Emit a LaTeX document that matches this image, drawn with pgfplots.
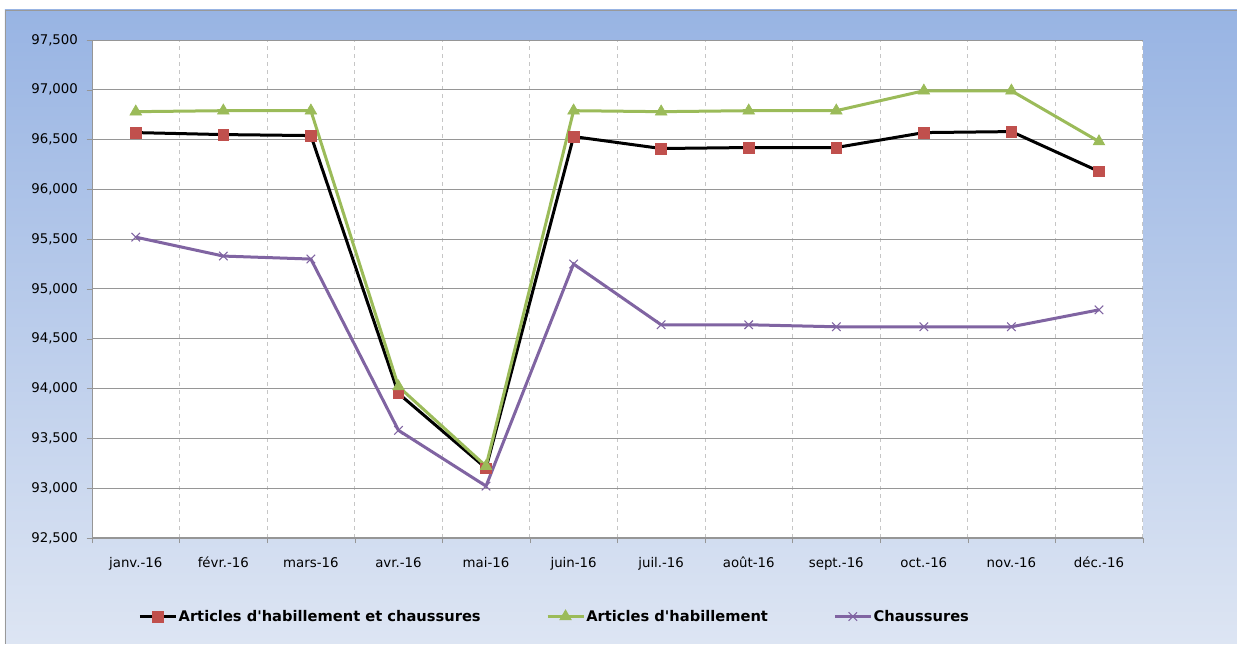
\documentclass[border=0pt]{standalone}
\usepackage{fontspec}
\setmainfont{DejaVu Sans}[Ligatures=TeXOff]
\usepackage{pgfplots}
\pgfplotsset{compat=1.18}
\definecolor{bgtop}{RGB}{152,180,227}
\definecolor{bgbot}{RGB}{221,229,243}
\definecolor{sqred}{RGB}{192,80,77}
\definecolor{grn}{RGB}{155,187,89}
\definecolor{purp}{RGB}{128,100,162}
\definecolor{gridc}{RGB}{150,150,150}

\begin{document}
\begin{tikzpicture}
% page: 1237 x 644 px at 0.75pt per px
\fill[white] (0,0) rectangle (927.75pt,483pt);
\shade[top color=bgtop, bottom color=bgbot] (3.75pt,0) rectangle (927.75pt,475.5pt);
\draw[gray!80] (3.75pt,0) -- (3.75pt,475.5pt) -- (927.75pt,475.5pt);
\begin{axis}[
    at={(69pt,79.5pt)}, anchor=south west,
    scale only axis,
    width=788.25pt, height=373.5pt,
    xmin=-0.5, xmax=11.5,
    ymin=92500, ymax=97500,
    axis background/.style={fill=white},
    axis x line*=bottom, axis y line*=left,
    axis line style={gridc, -},
    xtick={0,...,11},
    xticklabels={janv.-16,févr.-16,mars-16,avr.-16,mai-16,juin-16,juil.-16,août-16,sept.-16,oct.-16,nov.-16,déc.-16},
    minor xtick={-0.5,0.5,...,11.5},
    major x tick style={draw=none},
    minor x tick style={gridc},
    xminorgrids=true,
    minor x grid style={gray!45, dashed, line width=0.6pt},
    ytick={92500,93000,...,97500},
    ymajorgrids=true,
    major y grid style={gridc, line width=0.7pt},
    y tick style={gridc},
    tick align=outside,
    major tick length=4pt, minor tick length=4pt,
    scaled y ticks=false,
    /pgf/number format/fixed,
    /pgf/number format/1000 sep={,},
    /pgf/number format/assume math mode=true,
    tick label style={font=\fontsize{10}{12}\selectfont, black},
    xticklabel style={yshift=-7pt},
    yticklabel style={xshift=-3pt},
    legend columns=3,
    legend style={at={(0.44,-0.158)}, anchor=center, draw=none, fill=none,
        font=\bfseries\fontsize{11}{13}\selectfont,
        nodes={inner sep=1pt},
        /tikz/every even column/.append style={column sep=48pt},
        inner sep=0pt},
    legend image code/.code={\draw[#1, mark repeat=2, mark phase=2] plot coordinates {(0pt,0pt) (13.5pt,0pt) (27pt,0pt)};},
]
\addplot[black, line width=2.25pt, mark=square*, mark size=4pt,
    mark options={solid, fill=sqred, draw=sqred, line width=0.5pt}] coordinates {
    (0,96570) (1,96550) (2,96540) (3,93950) (4,93200) (5,96530)
    (6,96410) (7,96420) (8,96420) (9,96570) (10,96580) (11,96180)
};
\addlegendentry{Articles d'habillement et chaussures}
\addplot[grn, line width=2.25pt, mark=triangle*, mark size=5pt,
    mark options={solid, fill=grn, draw=grn, line width=0.5pt}] coordinates {
    (0,96780) (1,96790) (2,96790) (3,94020) (4,93220) (5,96790)
    (6,96780) (7,96790) (8,96790) (9,96990) (10,96990) (11,96480)
};
\addlegendentry{Articles d'habillement}
\addplot[purp, line width=2.25pt, mark=x, mark size=4.5pt,
    mark options={solid, draw=purp, line width=0.8pt}] coordinates {
    (0,95520) (1,95330) (2,95300) (3,93580) (4,93020) (5,95250)
    (6,94640) (7,94640) (8,94620) (9,94620) (10,94620) (11,94790)
};
\addlegendentry{Chaussures}
\end{axis}
\end{tikzpicture}
\end{document}
